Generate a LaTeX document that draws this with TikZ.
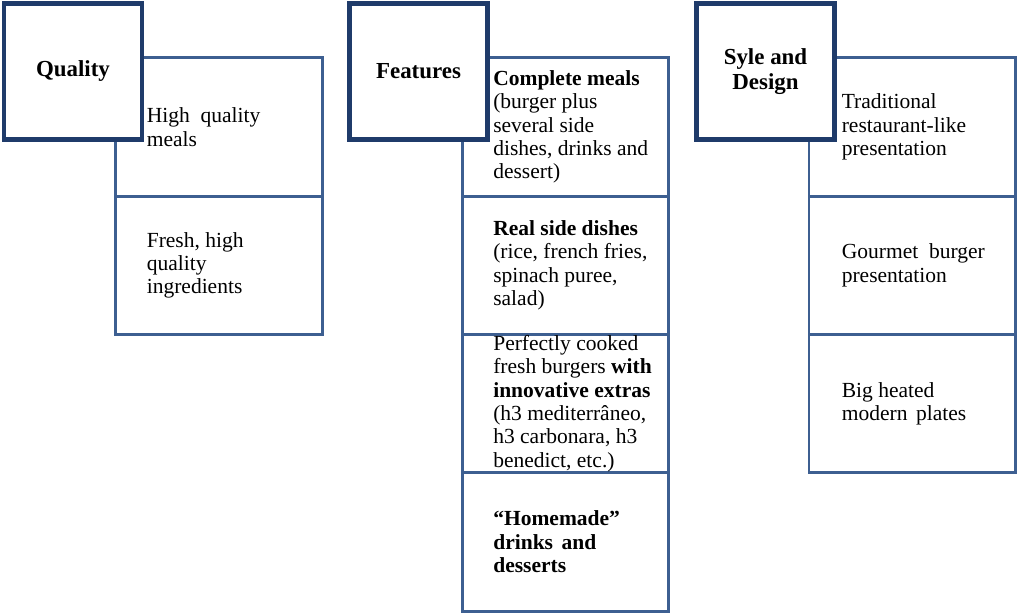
\documentclass[tikz,border=0pt]{standalone}
\usepackage{fontspec}
\setmainfont{Liberation Serif}
\usetikzlibrary{positioning,shadows}
\definecolor{headblue}{RGB}{31,59,106}
\definecolor{cellblue}{RGB}{61,95,145}

\begin{document}
\begin{tikzpicture}[x=0.025cm,y=-0.025cm,
  head/.style={draw=headblue,line width=3.2pt,fill=white,minimum width=3.45cm,minimum height=3.4cm,
    align=center,font=\fontsize{16.3}{17.8}\selectfont\bfseries,
    drop shadow={shadow xshift=1.2pt,shadow yshift=-1.2pt,opacity=0.3}},
  cell/.style={draw=cellblue,line width=2.1pt,minimum width=5.15cm,minimum height=3.456cm},
  txt/.style={inner sep=0pt,align=left,font=\fontsize{15.3}{16.6}\selectfont}]
\useasboundingbox (0,0) rectangle (1017,613);
%\draw [help lines,step=1cm] (0,0) grid (1017,613);

% quality
\node[cell] (q1) at (219,127.1) {};
\node[cell] (q2) at (219,265.4) {};
\node[txt,right=0.8cm of q1.west] (q1t) {High\hspace{0.5em}quality\\meals};
\node[txt,right=0.8cm of q2.west] (q2t) {Fresh, high\\quality\\ingredients};
\node[head] (qual) at (73,71.5) {Quality};

% features
\node[cell] (f1) at (565.5,127.1) {};
\node[cell] (f2) at (565.5,265.4) {};
\node[cell] (f3) at (565.5,403.6) {};
\node[cell] (f4) at (565.5,541.9) {};
\node[txt,right=0.8cm of f1.west] (f1t) {\textbf{Complete meals}\\(burger plus\\several side\\dishes, drinks and\\dessert)};
\node[txt,right=0.8cm of f2.west] (f2t) {\textbf{Real side dishes}\\(rice, french fries,\\spinach puree,\\salad)};
\node[txt,right=0.8cm of f3.west] (f3t) {Perfectly cooked\\fresh burgers \textbf{with}\\\textbf{innovative extras}\\(h3 mediterrâneo,\\h3 carbonara, h3\\benedict, etc.)};
\node[txt,font=\fontsize{15.3}{16.6}\selectfont\bfseries,right=0.8cm of f4.west] (f4t) {“Homemade”\\drinks\hspace{0.4em}and\\desserts};
\node[head] (feat) at (418.5,71.5) {Features};

% style and design
\node[cell] (s1) at (912,127.1) {};
\node[cell] (s2) at (912,265.4) {};
\node[cell] (s3) at (912,403.6) {};
\node[txt,right=0.85cm of s1.west] (s1t) {Traditional\\restaurant-like\\presentation};
\node[txt,right=0.85cm of s2.west] (s2t) {Gourmet\hspace{0.5em}burger\\presentation};
\node[txt,right=0.85cm of s3.west] (s3t) {Big heated\\modern\hspace{0.4em}plates};
\node[head] (style) at (765.5,71.5) {Syle and\\Design};
\end{tikzpicture}
\end{document}
